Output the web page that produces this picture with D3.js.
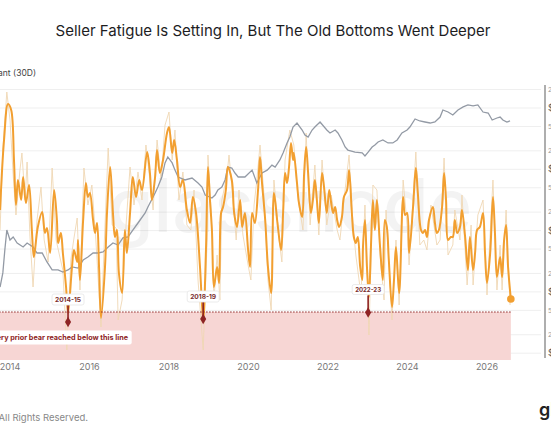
<!DOCTYPE html>
<html>
<head>
<meta charset="utf-8">
<script src="https://cdn.jsdelivr.net/npm/d3@7"></script>
<style>
  html, body { margin: 0; padding: 0; background: #fff; overflow: hidden; }
  svg { display: block; font-family: Inter, "Open Sans", sans-serif; }
</style>
</head>
<body>
<div id="viz"></div>
<script>
// ---- data (decimal years) ----
let smooth_years = [2013.75,2013.85,2013.95,2014.03,2014.10,2014.15,2014.20,2014.28,2014.33,2014.40,2014.48,2014.55,2014.60,2014.70,2014.81,2014.88,2014.93,2015.01,2015.11,2015.18,2015.21,2015.28,2015.33,2015.41,2015.46,2015.56,2015.61,2015.69,2015.71,2015.76,2015.84,2015.91,2015.96,2016.01,2016.09,2016.14,2016.19,2016.24,2016.29,2016.39,2016.44,2016.52,2016.59,2016.64,2016.69,2016.74,2016.82,2016.89,2016.94,2017.02,2017.09,2017.17,2017.25,2017.32,2017.45,2017.52,2017.57,2017.65,2017.70,2017.77,2017.85,2017.95,2018.00,2018.08,2018.13,2018.20,2018.28,2018.35,2018.45,2018.53,2018.60,2018.68,2018.78,2018.86,2018.93,2018.98,2019.03,2019.08,2019.13,2019.21,2019.26,2019.31,2019.36,2019.43,2019.48,2019.58,2019.64,2019.71,2019.79,2019.84,2019.91,2019.99,2020.04,2020.09,2020.16,2020.24,2020.29,2020.34,2020.42,2020.49,2020.57,2020.64,2020.72,2020.74,2020.82,2020.87,2020.92,2020.97,2021.02,2021.07,2021.12,2021.14,2021.22,2021.27,2021.35,2021.40,2021.45,2021.50,2021.57,2021.62,2021.67,2021.72,2021.77,2021.85,2021.90,2021.97,2022.03,2022.08,2022.13,2022.18,2022.23,2022.28,2022.35,2022.40,2022.48,2022.53,2022.60,2022.65,2022.70,2022.75,2022.81,2022.86,2022.88,2022.93,2022.98,2023.03,2023.08,2023.13,2023.18,2023.23,2023.31,2023.38,2023.43,2023.48,2023.53,2023.61,2023.66,2023.71,2023.79,2023.89,2023.94,2023.99,2024.04,2024.14,2024.21,2024.26,2024.34,2024.39,2024.44,2024.49,2024.54,2024.64,2024.69,2024.74,2024.79,2024.87,2024.92,2024.97,2025.02,2025.09,2025.14,2025.19,2025.25,2025.32,2025.37,2025.45,2025.52,2025.57,2025.65,2025.70,2025.75,2025.82,2025.90,2025.95,2026.00,2026.08,2026.15,2026.20,2026.25,2026.33,2026.38,2026.43,2026.48,2026.53,2026.60];
let smooth_values = [15.0,22.0,25.6,25.0,20.0,15.5,18.0,16.0,18.3,15.7,17.5,13.0,10.3,13.3,14.8,12.7,13.2,10.7,17.0,14.0,11.7,12.7,10.7,7.3,4.7,9.3,11.0,9.8,12.0,8.0,14.0,17.7,16.3,16.7,14.0,12.7,13.7,9.3,4.2,9.3,14.7,19.3,14.7,12.3,13.0,8.7,6.7,13.0,10.7,14.7,18.3,16.3,18.0,17.0,20.8,18.7,16.0,18.3,21.0,18.7,20.0,22.7,23.3,20.7,22.0,20.0,17.3,18.0,15.0,13.7,16.3,14.7,9.3,4.0,11.0,19.3,16.0,13.0,7.3,9.3,7.7,14.7,15.3,17.0,19.3,18.0,14.7,13.3,16.0,13.3,14.7,11.0,9.3,14.7,13.7,17.0,20.3,17.7,14.0,9.3,6.7,16.7,14.0,13.3,11.0,14.7,18.7,17.7,19.3,21.7,20.0,20.7,17.7,15.7,14.3,18.7,21.3,18.7,14.7,16.0,18.0,16.0,13.7,18.7,17.3,14.7,17.0,15.7,14.7,15.3,14.0,13.3,14.3,16.3,17.0,19.0,14.7,12.3,11.7,12.3,9.3,8.0,11.3,14.0,9.3,6.3,11.3,16.0,13.0,16.0,11.3,8.0,14.0,13.3,10.0,5.3,8.0,11.3,6.7,16.3,14.5,14.7,10.7,15.3,19.2,16.7,13.0,12.7,13.0,12.3,14.0,15.3,13.7,12.7,13.0,15.3,18.7,16.0,12.0,12.3,12.3,14.0,12.7,13.3,15.0,12.3,9.0,12.3,9.0,10.7,13.0,13.3,14.7,10.7,7.7,10.7,16.3,12.7,8.3,10.3,8.3,12.0,13.5,9.3,6.1];

let raw_years = [2013.75,2013.82,2013.92,2014.00,2014.08,2014.15,2014.25,2014.30,2014.38,2014.43,2014.50,2014.58,2014.68,2014.78,2014.86,2014.96,2015.06,2015.16,2015.26,2015.33,2015.43,2015.53,2015.61,2015.69,2015.76,2015.86,2015.96,2016.06,2016.16,2016.29,2016.36,2016.47,2016.57,2016.67,2016.72,2016.82,2016.92,2017.02,2017.12,2017.22,2017.32,2017.42,2017.52,2017.60,2017.70,2017.80,2017.90,2018.00,2018.08,2018.15,2018.25,2018.35,2018.45,2018.55,2018.63,2018.73,2018.86,2018.96,2018.98,2019.06,2019.13,2019.21,2019.28,2019.33,2019.46,2019.51,2019.61,2019.69,2019.76,2019.86,2019.99,2020.06,2020.14,2020.21,2020.29,2020.39,2020.49,2020.57,2020.64,2020.77,2020.84,2020.92,2021.04,2021.14,2021.25,2021.37,2021.45,2021.55,2021.67,2021.77,2021.85,2021.97,2022.08,2022.23,2022.30,2022.43,2022.53,2022.63,2022.70,2022.83,2022.93,2023.01,2023.03,2023.13,2023.23,2023.31,2023.41,2023.46,2023.61,2023.71,2023.79,2023.89,2023.99,2024.04,2024.21,2024.31,2024.41,2024.49,2024.59,2024.74,2024.82,2024.92,2025.02,2025.14,2025.19,2025.32,2025.37,2025.50,2025.60,2025.65,2025.77,2025.90,2026.00,2026.15,2026.25,2026.33,2026.38,2026.48,2026.58];
let raw_values = [13.0,21.0,26.8,24.0,18.5,14.5,19.0,20.7,16.0,19.8,12.5,7.3,14.0,17.3,12.0,9.8,19.2,12.0,10.2,9.0,1.0,10.0,12.2,14.2,7.0,19.2,15.5,17.5,12.0,3.3,10.5,21.2,13.5,13.2,4.0,6.0,13.5,19.3,15.5,18.8,16.0,21.5,18.0,15.0,22.0,18.0,23.5,24.8,20.0,23.0,16.0,18.8,13.5,13.0,17.0,8.0,1.0,12.0,20.5,15.0,6.0,10.5,6.0,16.0,18.5,20.5,16.0,12.0,17.0,12.5,9.5,8.0,15.5,18.0,21.5,16.5,8.0,5.0,18.0,12.0,9.8,20.0,23.0,21.5,16.0,13.0,22.7,13.5,19.5,12.5,20.0,13.5,16.5,13.0,12.0,17.0,20.5,13.5,10.5,6.5,15.5,6.0,2.5,17.5,17.0,10.5,6.0,15.0,4.0,12.0,5.5,18.0,13.5,9.5,20.8,11.5,12.0,11.0,15.5,11.5,12.0,20.2,10.5,11.5,15.0,12.0,16.5,7.5,13.5,7.5,14.5,16.0,6.5,18.0,7.0,11.5,7.0,15.0,5.5];

let price_years = [2013.75,2013.82,2013.87,2013.92,2014.00,2014.08,2014.18,2014.33,2014.43,2014.58,2014.68,2014.81,2014.93,2015.06,2015.21,2015.33,2015.46,2015.56,2015.71,2015.84,2015.96,2016.09,2016.21,2016.34,2016.47,2016.59,2016.72,2016.84,2016.97,2017.09,2017.22,2017.40,2017.47,2017.65,2017.72,2017.82,2017.90,2017.97,2018.08,2018.15,2018.23,2018.40,2018.58,2018.73,2018.83,2018.91,2019.08,2019.16,2019.23,2019.33,2019.41,2019.48,2019.58,2019.66,2019.74,2019.91,2020.09,2020.21,2020.34,2020.47,2020.59,2020.67,2020.79,2020.87,2020.97,2021.04,2021.12,2021.22,2021.35,2021.42,2021.50,2021.60,2021.67,2021.80,2021.97,2022.05,2022.18,2022.25,2022.35,2022.43,2022.50,2022.68,2022.86,2022.93,2023.01,2023.11,2023.18,2023.26,2023.38,2023.51,2023.63,2023.74,2023.86,2023.99,2024.06,2024.19,2024.31,2024.44,2024.57,2024.69,2024.82,2024.89,2025.02,2025.14,2025.27,2025.40,2025.52,2025.65,2025.77,2025.90,2026.03,2026.13,2026.25,2026.33,2026.40,2026.50,2026.58];
let price_values = [120,204,483,1020,703,787,628,540,628,540,431,431,308,228,228,211,228,255,245,331,372,431,431,448,540,628,582,759,787,1020,1330,1940,2430,4100,5140,7490,12700,15900,12700,9700,7490,6700,7200,5980,5140,3810,3400,3810,4600,5140,6700,10900,10500,8700,7490,7490,9700,5980,8700,9700,11700,10900,14200,18500,26900,33600,49000,56900,43700,36300,33600,43700,49000,59100,43700,39100,43700,39100,30100,23100,20600,19100,18500,16500,19100,23100,24900,27900,30100,26900,26900,30100,39100,43700,49000,66200,61400,59100,56900,59100,71300,92700,86000,76900,92700,104000,112000,108000,112000,86000,82800,63700,68700,71300,63700,59100,61400];

let year_ticks = [2014, 2016, 2018, 2020, 2022, 2024, 2026];
let price_ticks = [200000, 100000, 50000, 20000, 10000, 5000, 2000, 1000, 500, 200, 100, 50, 20, 10];
let price_labels = ["200k", "$100k", "50k", "20k", "$10k", "5k", "2k", "$1k", "500", "200", "$100", "50", "20", "$10"];

let threshold_value = 4.8;
let bottom_labels = ["2014-15", "2018-19", "2022-23"];
let bottom_years = [2015.46, 2018.86, 2023.01];
let bottom_values = [3.8, 4.1, 4.75];

let title_text = "Seller Fatigue Is Setting In, But The Old Bottoms Went Deeper";
let legend_text = "Seller Exhaustion Constant (30D)";
let zone_text = "Every prior bear reached below this line";

// ---- layout ----
let W = 551, H = 431;
let orange = "#f29f30";
let dark_red = "#8e2424";

let svg = d3.select("#viz").append("svg")
    .attr("width", W)
    .attr("height", H);

let x_scale = d3.scaleLinear().domain([2014, 2026]).range([10, 487]);
let y_left = d3.scaleLinear().domain([0, 27.5]).range([360, 85]);
let y_price = d3.scaleLog().domain([10, 100000]).range([353.2, 108]);

// shrink a text element's font until it is the wanted width
function fit_width(sel, target){
    let fs = parseFloat(sel.attr("font-size"));
    let w = sel.node().getBBox().width;
    sel.attr("font-size", fs * target / w);
}

// title + legend
svg.append("text")
    .attr("x", 273).attr("y", 36)
    .attr("text-anchor", "middle")
    .attr("font-size", 15)
    .attr("fill", "#1d1d1f")
    .text(title_text);

svg.append("text")
    .attr("x", 36).attr("y", 76)
    .attr("text-anchor", "end")
    .attr("font-size", 8.5)
    .attr("fill", "#444")
    .text(legend_text);

// gridlines on the price ticks
svg.append("g").selectAll("line")
    .data(price_ticks)
    .enter().append("line")
    .attr("x1", 0).attr("x2", 541)
    .attr("y1", d => y_price(d)).attr("y2", d => y_price(d))
    .attr("stroke", "#efefef")
    .attr("stroke-width", 1);

// watermark
svg.append("text")
    .attr("x", 290).attr("y", 232)
    .attr("text-anchor", "middle")
    .attr("font-size", 74)
    .attr("font-weight", 500)
    .attr("fill", "#000")
    .attr("opacity", 0.045)
    .text("glassnode");

// red zone below the line
let zone_end = d3.max(smooth_years);
svg.append("rect")
    .attr("x", x_scale(2013.5))
    .attr("y", y_left(threshold_value))
    .attr("width", x_scale(zone_end) - x_scale(2013.5))
    .attr("height", y_left(0) - y_left(threshold_value))
    .attr("fill", "#f7d6d4");

// raw thin series
let raw_data = raw_years.map((d, i) => ({yr: d, v: raw_values[i]}));
svg.append("path")
    .datum(raw_data)
    .attr("fill", "none")
    .attr("stroke", "#efd7b4")
    .attr("stroke-width", 1)
    .attr("opacity", 0.9)
    .attr("d", d3.line().x(d => x_scale(d.yr)).y(d => y_left(d.v)));

// price line
let price_data = price_years.map((d, i) => ({yr: d, p: price_values[i]}));
svg.append("path")
    .datum(price_data)
    .attr("fill", "none")
    .attr("stroke", "#939aa5")
    .attr("stroke-width", 1.3)
    .attr("d", d3.line().x(d => x_scale(d.yr)).y(d => y_price(d.p)));

// smoothed series
let smooth_data = smooth_years.map((d, i) => ({yr: d, v: smooth_values[i]}));
svg.append("path")
    .datum(smooth_data)
    .attr("fill", "none")
    .attr("stroke", orange)
    .attr("stroke-width", 2)
    .attr("stroke-linejoin", "round")
    .attr("d", d3.line().curve(d3.curveCatmullRom.alpha(0.5))
        .x(d => x_scale(d.yr)).y(d => y_left(d.v)));

let last = smooth_data[smooth_data.length - 1];
svg.append("circle")
    .attr("cx", x_scale(last.yr)).attr("cy", y_left(last.v))
    .attr("r", 3.8)
    .attr("fill", orange);

// dotted threshold line
svg.append("line")
    .attr("x1", x_scale(2013.5)).attr("x2", x_scale(zone_end))
    .attr("y1", y_left(threshold_value)).attr("y2", y_left(threshold_value))
    .attr("stroke", dark_red)
    .attr("stroke-width", 1)
    .attr("stroke-dasharray", "1.5,1.5");

// zone label
let zone_g = svg.append("g");
let zone_label = zone_g.append("text")
    .attr("x", 128).attr("y", 340)
    .attr("text-anchor", "end")
    .attr("font-size", 8.5)
    .attr("font-weight", 700)
    .attr("fill", dark_red)
    .text(zone_text);
fit_width(zone_label, 140);
let zb = zone_label.node().getBBox();
zone_g.insert("rect", "text")
    .attr("x", zb.x - 3).attr("y", zb.y - 2.5)
    .attr("width", zb.width + 6).attr("height", zb.height + 5)
    .attr("rx", 2)
    .attr("fill", "#fff");

// bear bottom markers
bottom_labels.forEach(function(lab, i){
    let cx = x_scale(bottom_years[i]);
    let cy = y_left(bottom_values[i]);
    let g = svg.append("g");
    g.append("line")
        .attr("x1", cx).attr("x2", cx)
        .attr("y1", cy - 17).attr("y2", cy)
        .attr("stroke", dark_red)
        .attr("stroke-width", 1.6);
    g.append("path")
        .attr("transform", "translate(" + cx + "," + cy + ")")
        .attr("d", d3.symbol().type(d3.symbolDiamond).size(32)())
        .attr("fill", dark_red);
    let t = g.append("text")
        .attr("x", cx).attr("y", cy - 20.5)
        .attr("text-anchor", "middle")
        .attr("font-size", 8)
        .attr("font-weight", 700)
        .attr("fill", "#7a3030")
        .text(lab);
    fit_width(t, 26);
    let b = t.node().getBBox();
    g.insert("rect", "text")
        .attr("x", b.x - 3).attr("y", b.y - 1.5)
        .attr("width", b.width + 6).attr("height", b.height + 3)
        .attr("rx", 2)
        .attr("fill", "#fff")
        .attr("stroke", "#e6e6e6")
        .attr("stroke-width", 0.8);
});

// x axis labels
svg.append("g").selectAll("text")
    .data(year_ticks)
    .enter().append("text")
    .attr("x", d => x_scale(d))
    .attr("y", 370)
    .attr("text-anchor", "middle")
    .attr("font-size", 9)
    .attr("fill", "#777")
    .text(d => d);

// right price axis
svg.append("line")
    .attr("x1", 545).attr("x2", 545)
    .attr("y1", 85).attr("y2", 358)
    .attr("stroke", "#9a9a9a")
    .attr("stroke-width", 1.6);

svg.append("g").selectAll("text")
    .data(price_ticks)
    .enter().append("text")
    .attr("x", 548)
    .attr("y", d => y_price(d))
    .attr("dy", "0.35em")
    .attr("font-size", (d, i) => price_labels[i][0] === "$" ? 9 : 6.5)
    .attr("fill", (d, i) => price_labels[i][0] === "$" ? "#555" : "#999")
    .text((d, i) => price_labels[i]);

// footer
svg.append("text")
    .attr("x", 88).attr("y", 421)
    .attr("text-anchor", "end")
    .attr("font-size", 9.5)
    .attr("fill", "#888")
    .text("\u00a9 2025 Glassnode. All Rights Reserved.");

svg.append("text")
    .attr("x", 539).attr("y", 416)
    .attr("font-size", 18)
    .attr("font-weight", 600)
    .attr("fill", "#222")
    .text("glassnode");
</script>
</body>
</html>
